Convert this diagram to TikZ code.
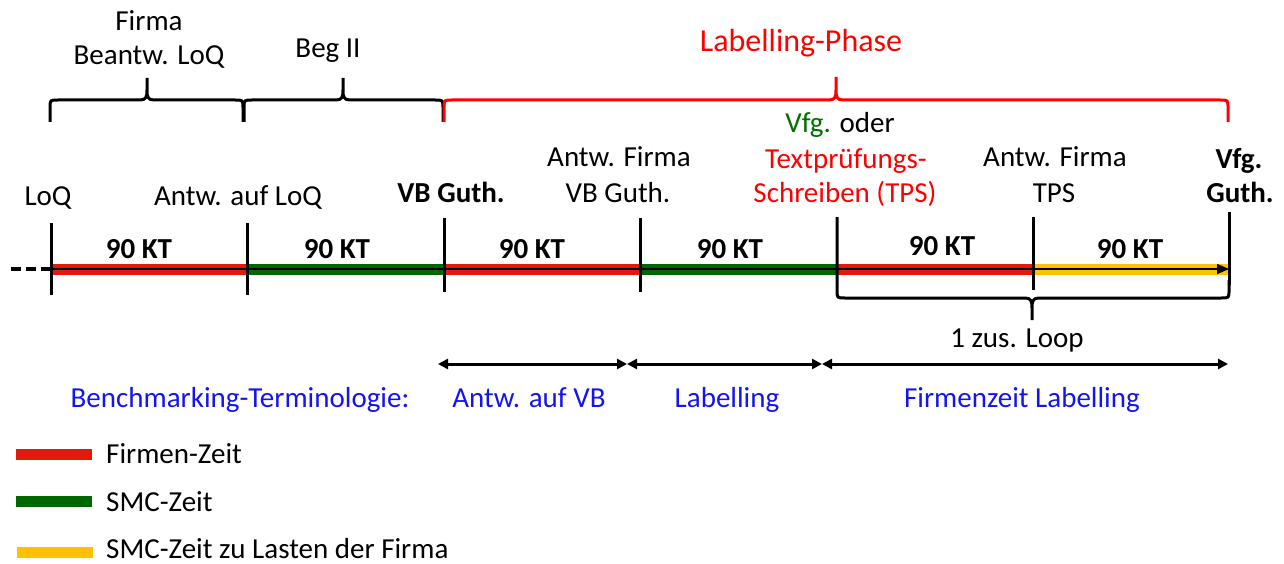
\documentclass[tikz,border=0pt]{standalone}
\usepackage{fontspec}
\setmainfont{Carlito}
\usetikzlibrary{arrows.meta}

\definecolor{firmred}{RGB}{226,26,10}
\definecolor{smcgreen}{RGB}{0,102,0}
\definecolor{loadyellow}{RGB}{255,192,0}
\definecolor{phasered}{RGB}{255,0,0}
\definecolor{termblue}{RGB}{20,20,240}
\definecolor{vfggreen}{RGB}{0,112,0}

\tikzset{
  lbl/.style={font=\fontsize{29}{34}\selectfont, anchor=base, inner sep=0pt},
  blbl/.style={lbl, font=\fontsize{29}{34}\selectfont\bfseries},
  bar/.style={line width=11pt},
  axisline/.style={line width=1.6pt, -{Triangle[length=12pt,width=10pt]}},
  tickline/.style={line width=3pt},
  bracepath/.style={line width=3pt},
  span/.style={line width=3pt, {Triangle[length=10pt,width=10pt]}-{Triangle[length=10pt,width=10pt]}},
  legendbar/.style={line width=11pt},
}

\begin{document}
\begin{tikzpicture}[x=1pt,y=-1pt]
\useasboundingbox (0,0) rectangle (1284,564);

% time marks on the axis
\coordinate (t0) at (51,269);
\coordinate (t1) at (247,269);
\coordinate (t2) at (444,269);
\coordinate (t3) at (640,269);
\coordinate (t4) at (837,269);
\coordinate (t5) at (1033,269);
\coordinate (t6) at (1229,269);
\coordinate (d0) at (11,269);

% coloured periods
\draw[bar, firmred] (t0) -- (t1);
\draw[bar, smcgreen] (t1) -- (t2);
\draw[bar, firmred] (t2) -- (t3);
\draw[bar, smcgreen] (t3) -- (t4);
\draw[bar, firmred] (t4) -- (t5);
\draw[bar, loadyellow] (t5) -- (t6);

% time axis
\draw[axisline] (t0) -- (t6);
\draw[line width=3.5pt, dash pattern=on 10pt off 5pt] (d0) -- (t0);

% ticks
\draw[tickline] (51,223) -- (51,295);
\draw[tickline] (247,223) -- (247,295);
\draw[tickline] (444,218) -- (444,292);
\draw[tickline] (640,218) -- (640,292);
\draw[tickline] (1033,217) -- (1033,290);
\draw[tickline] (1229,212) -- (1229,285);

% braces above the axis
\draw[bracepath] (50,122) -- (50,108) .. controls (50,100) .. (58,100)
  -- (140,100) .. controls (146,100) and (147,97) .. (147,90) -- (147,78)
  -- (147,90) .. controls (147,97) and (148,100) .. (154,100)
  -- (235,100) .. controls (243,100) .. (243,108) -- (243,122);
\draw[bracepath] (244,122) -- (244,108) .. controls (244,100) .. (252,100)
  -- (336,100) .. controls (342,100) and (343,97) .. (343,90) -- (343,78)
  -- (343,90) .. controls (343,97) and (344,100) .. (350,100)
  -- (435,100) .. controls (443,100) .. (443,108) -- (443,122);
\draw[bracepath, phasered] (444,122) -- (444,108) .. controls (444,100) .. (452,100)
  -- (829,100) .. controls (835,100) and (836,97) .. (836,90) -- (836,77)
  -- (836,90) .. controls (836,97) and (837,100) .. (843,100)
  -- (1220,100) .. controls (1228,100) .. (1228,108) -- (1228,122);

% brace below the axis (additional loop)
\draw[bracepath] (837,217) -- (837,290) .. controls (837,298) .. (845,298)
  -- (1025,298) .. controls (1031,298) and (1032,301) .. (1032,308) -- (1032,320)
  -- (1032,308) .. controls (1032,301) and (1033,298) .. (1039,298)
  -- (1221,298) .. controls (1229,298) .. (1229,290) -- (1229,280);

% labels above the braces
\node[lbl] (firma) at (149,31) {Firma};
\node[lbl] (beantw) at (149,65) {Beantw. LoQ};
\node[lbl] (beg) at (328,58) {Beg II};
\node[lbl, font=\fontsize{32}{38}\selectfont, text=phasered] (phase) at (801,52) {Labelling-Phase};

% event labels
\node[lbl] (loq) at (48,205) {LoQ};
\node[lbl] (antwloq) at (238,205) {Antw. auf LoQ};
\node[blbl] (vbguth) at (451,203) {VB Guth.};
\node[lbl] (antwfa) at (619,167) {Antw. Firma};
\node[lbl] (antwfb) at (618,203) {VB Guth.};
\node[lbl] (vfgoder) at (840,133) {\textcolor{vfggreen}{Vfg.} oder};
\node[lbl, text=phasered] (tpsa) at (846,168) {Textprüfungs-};
\node[lbl, text=phasered] (tpsb) at (845,203) {Schreiben (TPS)};
\node[lbl] (antwta) at (1055,167) {Antw. Firma};
\node[lbl] (antwtb) at (1054,203) {TPS};
\node[blbl] (vfga) at (1239,168) {Vfg.};
\node[blbl] (vfgb) at (1240,202) {Guth.};

% period durations
\node[blbl] (kt1) at (139,258) {90 KT};
\node[blbl] (kt2) at (337,258) {90 KT};
\node[blbl] (kt3) at (532,258) {90 KT};
\node[blbl] (kt4) at (730,258) {90 KT};
\node[blbl] (kt5) at (942,255) {90 KT};
\node[blbl] (kt6) at (1130,258) {90 KT};

\node[lbl] (loop) at (1017,347) {1 zus. Loop};

% benchmarking spans
\coordinate (s0) at (438,364);
\coordinate (s1) at (627,364);
\coordinate (s2) at (822,364);
\coordinate (s3) at (1228,364);
\draw[span] (s0) -- (s1);
\draw[span] (s1) -- (s2);
\draw[span] (s2) -- (s3);

\node[lbl, text=termblue] (bench) at (240,407) {Benchmarking-Terminologie:};
\node[lbl, text=termblue] (bvb) at (529,407) {Antw. auf VB};
\node[lbl, text=termblue] (blab) at (727,407) {Labelling};
\node[lbl, text=termblue] (bfirm) at (1022,407) {Firmenzeit Labelling};

% legend
\coordinate (la0) at (16,454.5);
\coordinate (la1) at (92,454.5);
\coordinate (lb0) at (16,501.5);
\coordinate (lb1) at (92,501.5);
\coordinate (lc0) at (17,552);
\coordinate (lc1) at (93,552);
\draw[legendbar, firmred] (la0) -- (la1);
\draw[legendbar, smcgreen] (lb0) -- (lb1);
\draw[legendbar, loadyellow] (lc0) -- (lc1);
\node[lbl, anchor=base west] (leg1) at (106,463) {Firmen-Zeit};
\node[lbl, anchor=base west] (leg2) at (106,511) {SMC-Zeit};
\node[lbl, anchor=base west] (leg3) at (106,558) {SMC-Zeit zu Lasten der Firma};
\end{tikzpicture}
\end{document}
